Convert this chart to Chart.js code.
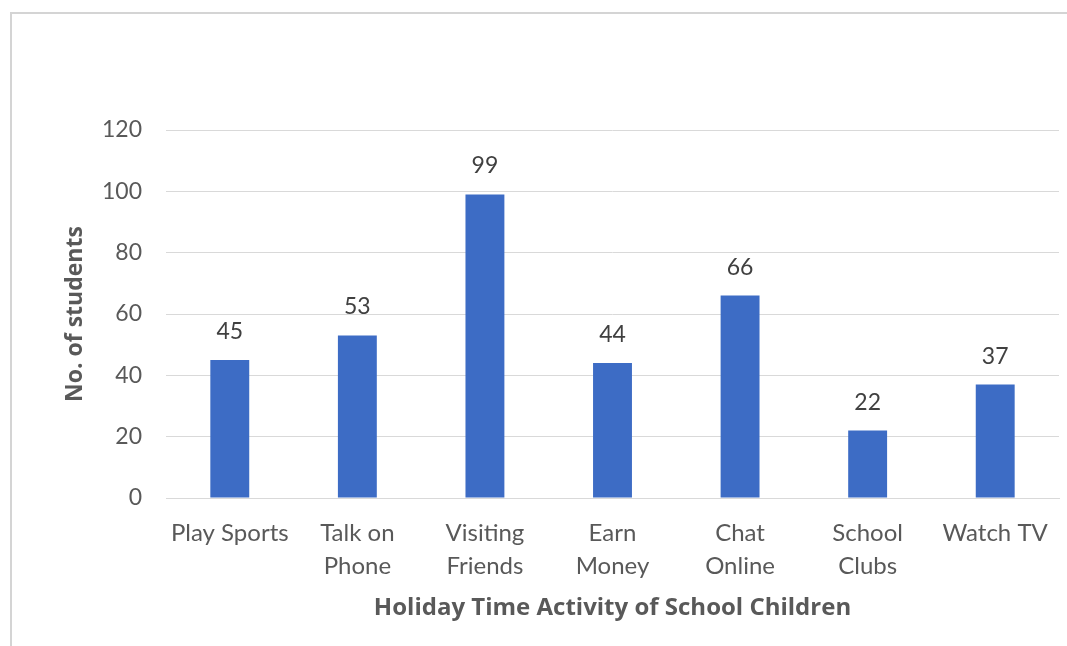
<!DOCTYPE html>
<html>
<head>
<script src="https://cdn.jsdelivr.net/npm/chart.js"></script>
<style>
  body { margin: 0; background: #fff; }
  #wrap { width: 1067px; height: 646px; }
</style>
</head>
<body>
<div id="wrap"><canvas id="myChart" width="1067" height="646"></canvas></div>
<script>
// 데이터
const categories = [['Play Sports'], ['Talk on', 'Phone'], ['Visiting', 'Friends'], ['Earn', 'Money'], ['Chat', 'Online'], ['School', 'Clubs'], ['Watch TV']];
const students = [45, 53, 99, 44, 66, 22, 37];
const yTicks = [0, 20, 40, 60, 80, 100, 120];

// 막대 위에 값 표시
const valueLabels = {
  id: 'valueLabels',
  afterDatasetsDraw(chart) {
    const ctx = chart.ctx;
    const meta = chart.getDatasetMeta(0);
    ctx.save();
    ctx.font = '23px Lato';
    ctx.fillStyle = '#404040';
    ctx.textAlign = 'center';
    ctx.textBaseline = 'alphabetic';
    meta.data.forEach(function(bar, i) {
      ctx.fillText(students[i], bar.x, bar.y - 21);
    });
    ctx.restore();
  }
};

// 바깥 테두리 (위, 왼쪽)
const frame = {
  id: 'frame',
  beforeDraw(chart) {
    const ctx = chart.ctx;
    ctx.save();
    ctx.strokeStyle = '#d4d4d4';
    ctx.lineWidth = 2;
    ctx.beginPath();
    ctx.moveTo(11, 646);
    ctx.lineTo(11, 13);
    ctx.lineTo(1067, 13);
    ctx.stroke();
    ctx.restore();
  }
};

const chart = new Chart(document.getElementById('myChart'), {
  type: 'bar',
  data: {
    labels: categories,
    datasets: [{
      data: students,
      backgroundColor: '#3D6CC5',
      barPercentage: 1,
      categoryPercentage: 0.305
    }]
  },
  options: {
    responsive: false,
    animation: false,
    layout: { padding: { left: 0, right: 8, top: 130, bottom: 0 } },
    plugins: {
      legend: { display: false },
      title: { display: false },
      tooltip: { enabled: false }
    },
    scales: {
      x: {
        grid: { display: false, drawTicks: false },
        border: { color: '#d9d9d9', width: 1 },
        ticks: {
          color: '#595959',
          font: { family: 'Lato', size: 24, lineHeight: 1.4 },
          padding: 18,
          maxRotation: 0,
          autoSkip: false
        },
        title: {
          display: true,
          text: 'Holiday Time Activity of School Children',
          color: '#595959',
          font: { family: 'Open Sans', size: 24, weight: 'bold' },
          padding: { top: 0, bottom: 23 }
        },
        afterFit(scale) { scale.height = 148; }
      },
      y: {
        min: 0,
        max: 120,
        afterBuildTicks(scale) { scale.ticks = yTicks.map(v => ({ value: v })); },
        grid: { color: '#d9d9d9', drawTicks: false },
        border: { display: false },
        ticks: {
          color: '#595959',
          font: { family: 'Lato', size: 23 },
          padding: 24
        },
        title: {
          display: true,
          text: 'No. of students',
          color: '#595959',
          font: { family: 'Open Sans', size: 23, weight: 'bold' },
          padding: { top: 62, bottom: 0 }
        },
        afterFit(scale) { scale.width = 166; }
      }
    }
  },
  plugins: [valueLabels, frame]
});
</script>
</body>
</html>
